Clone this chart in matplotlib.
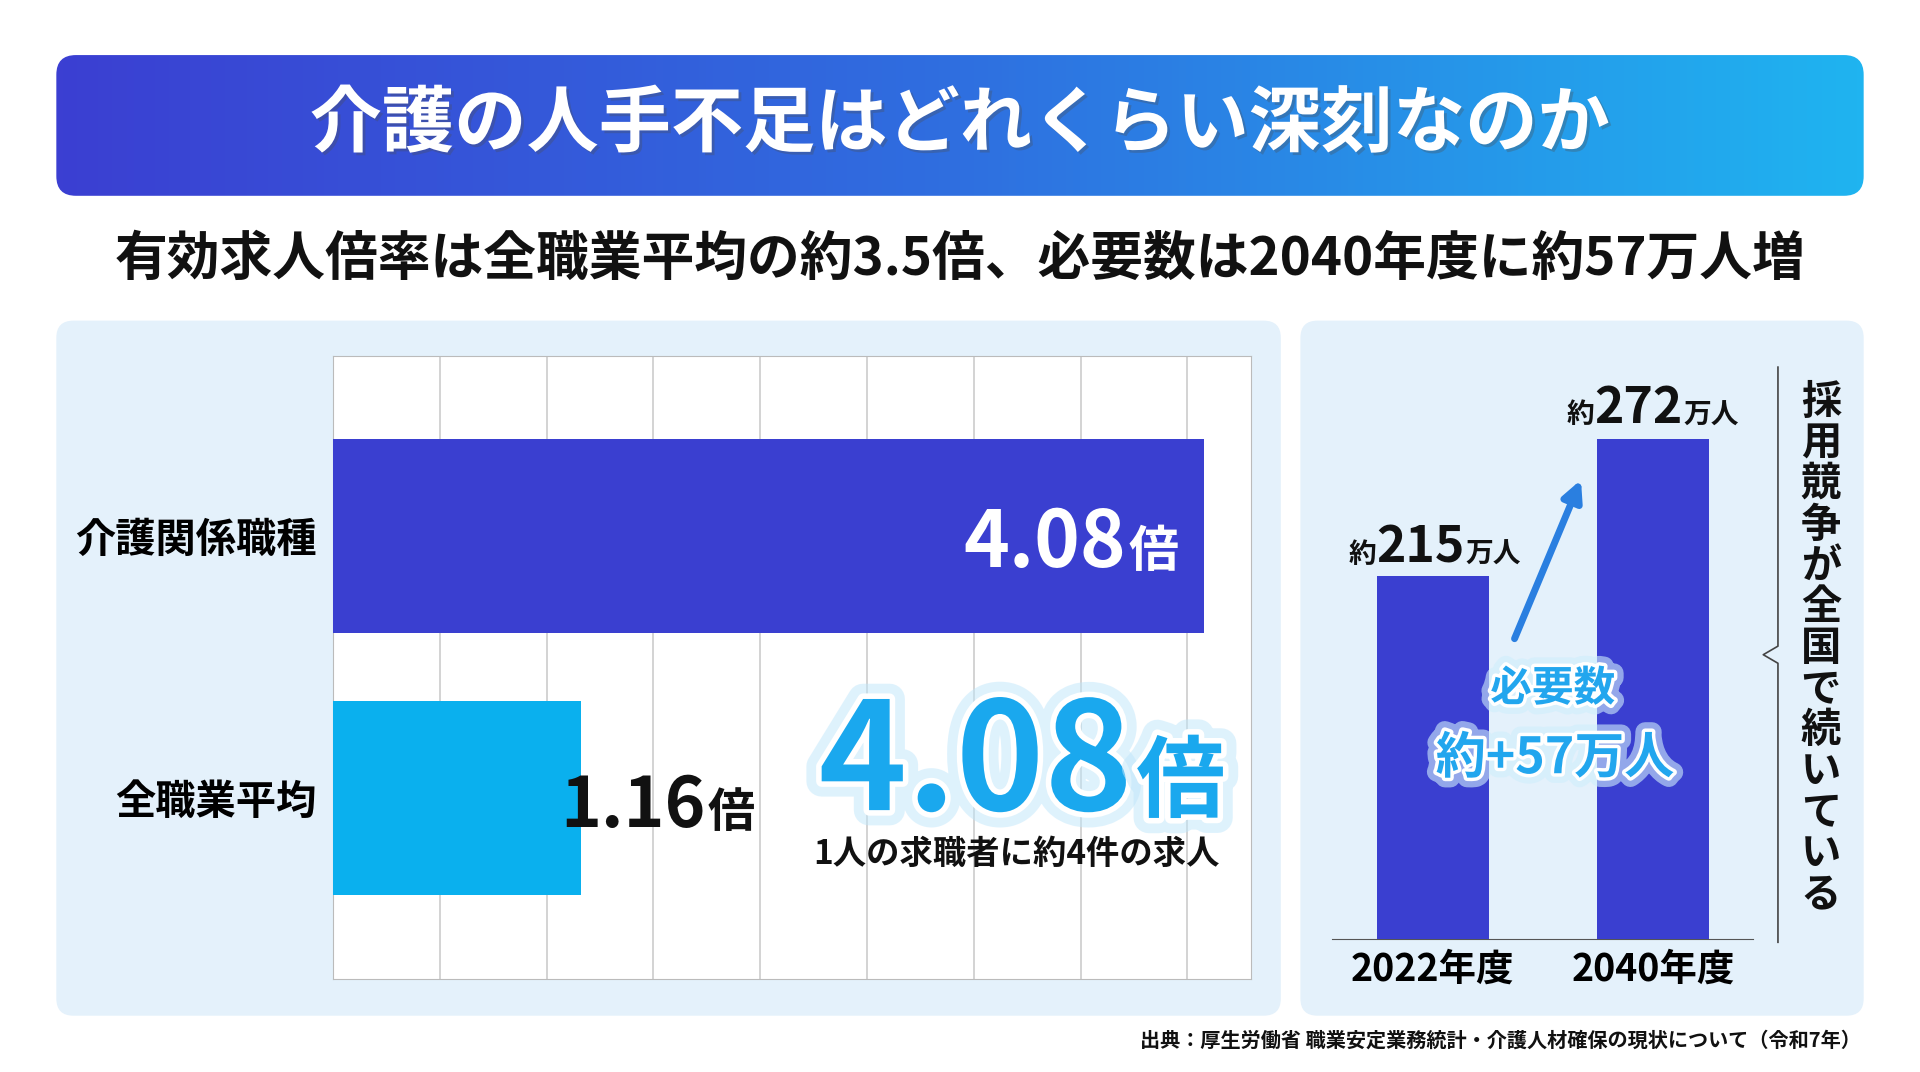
import matplotlib
matplotlib.use("Agg")
import matplotlib.pyplot as plt
import numpy as np
from matplotlib.patches import FancyBboxPatch
from matplotlib.colors import LinearSegmentedColormap
import matplotlib.patheffects as pe

plt.rcParams['font.family'] = ['Noto Sans CJK JP', 'DejaVu Sans']
plt.rcParams['font.weight'] = 'bold'

# data
jobs = ["介護関係職種", "全職業平均"]
ratio = [4.08, 1.16]
years = ["2022年度", "2040年度"]
need = [215, 272]

DARK = "#3a3fd0"
LIGHT = "#0ab0ee"
W, H = 1568, 876  # layout units (scaled to 1920x1072)

fig = plt.figure(figsize=(19.2, 10.72), dpi=100)
bg = fig.add_axes([0, 0, 1, 1]); bg.set_xlim(0, W); bg.set_ylim(H, 0); bg.axis("off")

def rect(x0, y0, x1, y1):
    return [x0 / W, 1 - y1 / H, (x1 - x0) / W, (y1 - y0) / H]

# banner with gradient (axes in layout units so rounding stays circular)
bw, bh = 1476, 115
bax = fig.add_axes(rect(46, 45, 46 + bw, 45 + bh)); bax.axis("off")
grad = np.linspace(0, 1, 256)[None, :]
cm = LinearSegmentedColormap.from_list("g", ["#3b3fd2", "#2f6fe0", "#1fb4f0"])
im = bax.imshow(grad, aspect="auto", cmap=cm, extent=[0, bw, 0, bh])
bax.set_xlim(0, bw); bax.set_ylim(0, bh)
clip = FancyBboxPatch((0, 0), bw, bh, boxstyle="round,pad=0,rounding_size=16",
                      transform=bax.transData, fc="none", ec="none")
bax.add_patch(clip); im.set_clip_path(clip)

# panels
for x0, x1 in [(46, 1046), (1062, 1522)]:
    bg.add_patch(FancyBboxPatch((x0, 262), x1 - x0, 568, boxstyle="round,pad=0,rounding_size=14",
                                fc="#e4f1fb", ec="none"))

# left bar chart
ax = fig.add_axes(rect(272, 291, 1022, 800))
ax.barh([0, 1], ratio, height=0.743, color=[DARK, LIGHT], zorder=3)
ax.set_xlim(0, 4.3); ax.set_ylim(1.692, -0.687)
ax.set_xticks(np.arange(0.5, 4.3, 0.5)); ax.set_xticklabels([])
ax.tick_params(length=0)
ax.grid(axis="x", color="#cccccc", lw=1.2, zorder=0)
ax.set_yticks([0, 1]); ax.set_yticklabels(jobs, fontsize=29, weight="bold")
ax.tick_params(axis="y", pad=12)
for s in ax.spines.values():
    s.set_color("#bbbbbb")

# right bar chart
ax2 = fig.add_axes(rect(1088, 290, 1432, 767))
ax2.patch.set_alpha(0)
ax2.bar([0, 1], need, width=0.51, color=DARK, zorder=3)
ax2.set_xlim(-0.456, 1.456); ax2.set_ylim(64, 307)
ax2.set_yticks([]); ax2.set_xticks([0, 1])
ax2.set_xticklabels(years, fontsize=27, weight="bold")
ax2.tick_params(length=0, pad=8)
for k in ["top", "left", "right"]:
    ax2.spines[k].set_visible(False)
ax2.spines["bottom"].set_color("#555555")

# overlay for texts
ov = fig.add_axes([0, 0, 1, 1]); ov.set_xlim(0, W); ov.set_ylim(H, 0); ov.axis("off"); ov.patch.set_alpha(0)

ov.text(784, 102, "介護の人手不足はどれくらい深刻なのか", color="white", fontsize=52,
        ha="center", va="center", weight="bold",
        path_effects=[pe.withSimplePatchShadow(offset=(2, -2), alpha=0.3)])
ov.text(784, 212, "有効求人倍率は全職業平均の約3.5倍、必要数は2040年度に約57万人増",
        color="#111111", fontsize=38, ha="center", va="center", weight="bold")

def num_unit(x, y, num, unit, ns, us, color, off, effects=None):
    ov.text(x, y, num, fontsize=ns, color=color, ha="right", va="baseline", weight="bold",
            path_effects=effects)
    ov.text(x + off, y, unit, fontsize=us, color=color, ha="left", va="baseline", weight="bold",
            path_effects=effects)

num_unit(920, 463, f"{ratio[0]:.2f}", "倍", 56, 36, "white", 2)
num_unit(576, 676, f"{ratio[1]:.2f}", "倍", 50, 34, "#111111", 2)
glow = [pe.Stroke(linewidth=22, foreground="#bfe6fb", alpha=0.5),
        pe.Stroke(linewidth=8, foreground="white"), pe.Normal()]
ov.text(925, 662, f"{ratio[0]:.2f}", fontsize=108, color="#1aa8ee", ha="right",
        va="baseline", weight="bold", path_effects=glow)
ov.text(928, 662, "倍", fontsize=64, color="#1aa8ee", ha="left", va="baseline", weight="bold",
        path_effects=glow)
ov.text(830, 698, "1人の求職者に約4件の求人", fontsize=24, color="#111111", ha="center",
        va="center", weight="bold")

# right value labels
for cx, cy, v in [(1160, 460, need[0]), (1338, 346, need[1])]:
    ov.text(cx - 36, cy, "約", fontsize=20, ha="right", va="baseline", weight="bold", color="#111111")
    ov.text(cx, cy, str(v), fontsize=36, ha="center", va="baseline", weight="bold", color="#111111")
    ov.text(cx + 37, cy, "万人", fontsize=20, ha="left", va="baseline", weight="bold", color="#111111")

ov.annotate("", xy=(1292, 390), xytext=(1236, 524),
            arrowprops=dict(arrowstyle="-|>,head_width=0.6,head_length=1.2", lw=5, color="#2a7fe0"))
glow2 = [pe.Stroke(linewidth=14, foreground="#cfeefc", alpha=0.6),
         pe.Stroke(linewidth=5, foreground="white"), pe.Normal()]
ov.text(1268, 563, "必要数", fontsize=30, color="#22a6ee", ha="center", va="center",
        weight="bold", path_effects=glow2)
ov.text(1270, 620, "約+57万人", fontsize=36, color="#22a6ee", ha="center", va="center",
        weight="bold", path_effects=glow2)

# bracket + vertical text
ov.plot([1452, 1452, 1440, 1452, 1452], [300, 528, 535, 542, 770], color="#444444", lw=1.2)
ov.text(1487, 530, "\n".join("採用競争が全国で続いている"), fontsize=29, ha="center",
        va="center", linespacing=1.0, weight="bold", color="#111111")

ov.text(1520, 850, "出典：厚生労働省 職業安定業務統計・介護人材確保の現状について（令和7年）",
        fontsize=14.5, ha="right", va="center", weight="bold", color="#111111")

fig.savefig("out.png", dpi=100, facecolor="white")
